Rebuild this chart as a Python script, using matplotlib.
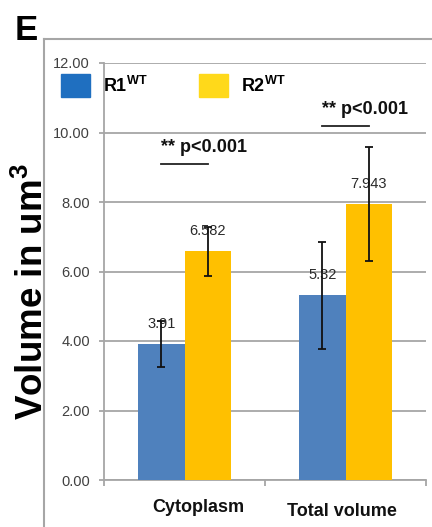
import matplotlib
matplotlib.use("Agg")
import matplotlib.pyplot as plt
from matplotlib.patches import Patch
from matplotlib.lines import Line2D
from matplotlib import font_manager
import numpy as np

categories = ["Cytoplasm", "Total volume"]
series_names = [r"$\mathbf{R1^{WT}}$", r"$\mathbf{R2^{WT}}$"]
r1_values = [3.91, 5.32]
r2_values = [6.582, 7.943]
r1_err = [0.66, 1.54]
r2_err = [0.71, 1.63]
r1_labels = ["3.91", "5.32"]
r2_labels = ["6.582", "7.943"]
y_ticks = [0, 2, 4, 6, 8, 10, 12]
sig_text = "** p<0.001"
sig_heights = [9.09, 10.18]

names = {f.name for f in font_manager.fontManager.ttflist}
narrow = "Liberation Sans Narrow" if "Liberation Sans Narrow" in names else "Liberation Sans"

plt.rcParams["font.family"] = ["Liberation Sans", "DejaVu Sans"]
plt.rcParams["mathtext.fontset"] = "custom"
plt.rcParams["mathtext.rm"] = "Liberation Sans"
plt.rcParams["mathtext.bf"] = "Liberation Sans:bold"
plt.rcParams["mathtext.it"] = "Liberation Sans:italic"

W, H = 432, 527
fig = plt.figure(figsize=(W / 100, H / 100), dpi=100)
ax = fig.add_axes([104 / W, 1 - 480 / H, (426 - 104) / W, (480 - 63) / H])

blue = "#4F81BD"
yellow = "#FFC000"
grid_c = "#A6A6A6"

x = np.arange(len(categories))
bw = 0.286
ekw = dict(ecolor="#111111", elinewidth=1.3, capsize=2.6, capthick=1.3, zorder=6)
b1 = ax.bar(x - bw / 2, r1_values, bw, color=blue, yerr=r1_err, error_kw=ekw, zorder=3)
b2 = ax.bar(x + bw / 2, r2_values, bw, color=yellow, yerr=r2_err, error_kw=ekw, zorder=3)

for xi, v, lab in zip(x - bw / 2, r1_values, r1_labels):
    ax.annotate(lab, (xi, v), xytext=(0, 14.5), textcoords="offset points",
                ha="center", va="center", fontsize=10.5, color="#2a2a2a",
                family=narrow, zorder=5)
for xi, v, lab in zip(x + bw / 2, r2_values, r2_labels):
    ax.annotate(lab, (xi, v), xytext=(0, 14.5), textcoords="offset points",
                ha="center", va="center", fontsize=10.5, color="#2a2a2a",
                family=narrow, zorder=5)

# significance annotations
for xi, h in zip(x, sig_heights):
    ax.plot([xi - bw / 2, xi + bw / 2], [h, h], color="#222222", lw=1.3, zorder=4)
    ax.text(xi - bw / 2 - 0.005, h + 0.34, sig_text, ha="left", va="baseline",
            fontsize=13, fontweight="bold", color="#111111")

ax.set_xlim(-0.5, 1.5)
ax.set_ylim(0, 12)
ax.set_yticks(y_ticks)
ax.set_yticklabels([f"{t:.2f}" for t in y_ticks])
ax.set_xticks([-0.5, 0.5, 1.5])
ax.set_xticklabels([])
ax.yaxis.grid(True, color=grid_c, lw=1.3, zorder=0)
ax.set_axisbelow(True)
for s in ["top", "right"]:
    ax.spines[s].set_visible(False)
for s in ["left", "bottom"]:
    ax.spines[s].set_color(grid_c)
    ax.spines[s].set_linewidth(1.3)
ax.tick_params(axis="y", length=3.6, width=1.3, color=grid_c, pad=6.5,
               labelsize=10.5, labelcolor="#404040")
ax.tick_params(axis="x", length=4.5, width=1.3, color=grid_c)
for t in ax.get_yticklabels():
    t.set_family(narrow)

# category labels
cat_offsets = [0.087, -0.025]
cat_base = [512, 516]
for xi, off, cat, yb in zip(x, cat_offsets, categories, cat_base):
    ax.text(xi + off, 1 - yb / H, cat, transform=matplotlib.transforms.blended_transform_factory(ax.transData, fig.transFigure),
            ha="center", va="baseline", fontsize=13, fontweight="bold", color="#111111")

# legend
handles = [Patch(color="#1F6FC0"), Patch(color="#FFD91A")]
leg = fig.legend(handles, series_names, loc="upper left",
                 bbox_to_anchor=(61 / W, 1 - 74 / H), ncol=2, frameon=False,
                 fontsize=13, handlelength=1.6, handleheight=1.6,
                 handletextpad=0.7, columnspacing=2.9, borderpad=0, borderaxespad=0)

# outer frame
fig.add_artist(Line2D([44 / W, 44 / W], [1 - 39 / H, -0.05], color=grid_c, lw=1.5,
                      transform=fig.transFigure))
fig.add_artist(Line2D([44 / W, 1.05], [1 - 39 / H, 1 - 39 / H], color=grid_c, lw=1.5,
                      transform=fig.transFigure))

# panel letter
fig.text(15 / W, 1 - 40 / H, "E", fontsize=25, fontweight="bold", va="baseline",
         ha="left", color="black")

# y label
fig.text(33 / W, 1 - 292 / H, r"Volume in um$^{\mathbf{3}}$", rotation=90,
         fontsize=26.5, fontweight="bold", ha="center", va="center", color="black")

fig.savefig("out.png", dpi=100)
